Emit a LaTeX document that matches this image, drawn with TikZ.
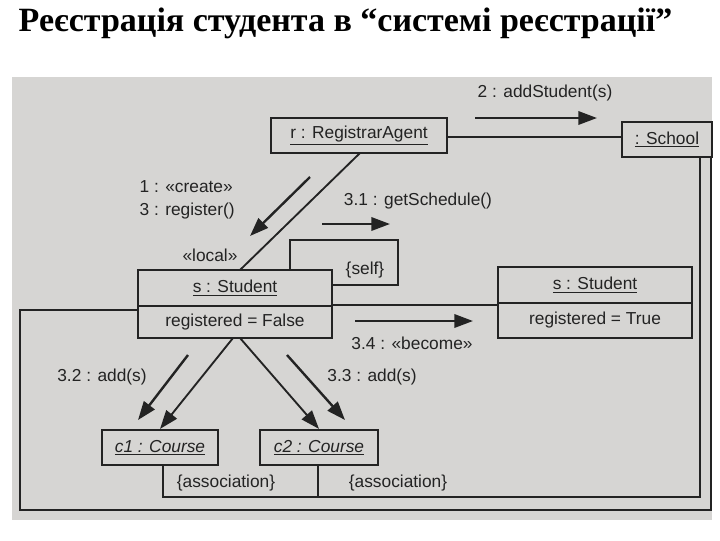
\documentclass[tikz,border=0pt]{standalone}
\usepackage{fontspec}
\setmainfont{Liberation Serif}
\newfontfamily\dsans{Liberation Sans}
\usetikzlibrary{arrows.meta}
\definecolor{bg}{RGB}{214,213,211}
\definecolor{ink}{RGB}{35,35,35}
\begin{document}
\begin{tikzpicture}[x=0.75pt,y=-0.75pt,
  obj/.style={draw=ink,line width=1.6pt,inner sep=0pt,font=\dsans\fontsize{13}{15}\selectfont,text=ink},
  lbl/.style={font=\dsans\fontsize{13}{15}\selectfont,text=ink,inner sep=1pt},
  lnk/.style={draw=ink,line width=1.4pt},
  msg/.style={draw=ink,line width=1.8pt,-{Triangle[length=14pt,width=10pt]}},
  nav/.style={draw=ink,line width=1.4pt,-{Triangle[length=14pt,width=10pt]}}]
\useasboundingbox (0,0) rectangle (720,540);
\fill[white] (0,0) rectangle (720,540);
\fill[bg] (12,77) rectangle (712,520);
\node[anchor=west,font=\bfseries\fontsize{25.5}{28}\selectfont] (title) at (14,23) {Реєстрація студента в “системі реєстрації”};
% objects
\node[obj,minimum width=176*0.75pt,minimum height=35*0.75pt] (ra) at (359,135.5) {\underline{r : RegistrarAgent}};
\node[obj,minimum width=90*0.75pt,minimum height=35*0.75pt] (sc) at (667,139.5) {\underline{: School}};
\node[obj,minimum width=116*0.75pt,minimum height=35*0.75pt,font=\dsans\itshape\fontsize{13}{15}\selectfont] (c1) at (160,447.5) {\underline{c1 : Course}};
\node[obj,minimum width=118*0.75pt,minimum height=35*0.75pt,font=\dsans\itshape\fontsize{13}{15}\selectfont] (c2) at (319,447.5) {\underline{c2 : Course}};
\node[obj,minimum width=194*0.75pt,minimum height=36*0.75pt] (s1) at (235,288) {\underline{s : Student}};
\node[obj,minimum width=194*0.75pt,minimum height=32*0.75pt] (s1a) at (235,322) {registered = False};
\node[obj,minimum width=194*0.75pt,minimum height=36*0.75pt] (s2) at (595,285) {\underline{s : Student}};
\node[obj,minimum width=194*0.75pt,minimum height=35*0.75pt] (s2a) at (595,320.5) {registered = True};
% links
\draw[lnk] (ra.east |- 0,137) -- (sc.west |- 0,137);
\draw[lnk] (360,153) -- (240,270);
\draw[lnk] (s1.east |- 0,305) -- (s2a.west |- 0,305);
\draw[lnk] (290,270) -- (290,240) -- (398,240) -- (398,285) -- (332,285);
\draw[lnk] (s1a.west |- 0,310) -- (20,310) -- (20,510) -- (711,510) -- (711,157);
\draw[lnk] (163,465) -- (163,497) -- (700,497) -- (700,157);
\draw[lnk] (318,465) -- (318,497);
\draw[nav] (233,338) -- (c1.north);
\draw[nav] (240,338) -- (c2.north);
% messages
\coordinate (m2a) at (475,118); \coordinate (m2b) at (597,118);
\draw[msg] (m2a) -- (m2b);
\node[lbl] (l2) at (545,93) {2 : addStudent(s)};
\coordinate (m1a) at (310,177); \coordinate (m1b) at (250,236);
\draw[msg] (m1a) -- (m1b);
\node[lbl,anchor=west] (l1) at (138,187) {1 : «create»};
\node[lbl,anchor=west] (l3) at (138,211) {3 : register()};
\node[lbl] (loc) at (210,255) {«local»};
\coordinate (m31a) at (322,224); \coordinate (m31b) at (390,224);
\draw[msg] (m31a) -- (m31b);
\node[lbl] (l31) at (418,201) {3.1 : getSchedule()};
\node[lbl] (self) at (365,270) {\{self\}};
\coordinate (m34a) at (355,321); \coordinate (m34b) at (473,321);
\draw[msg] (m34a) -- (m34b);
\node[lbl] (l34) at (412,343) {3.4 : «become»};
\coordinate (m32a) at (188,355); \coordinate (m32b) at (138,420);
\draw[msg] (m32a) -- (m32b);
\node[lbl] (l32) at (102,377) {3.2 : add(s)};
\coordinate (m33a) at (287,355); \coordinate (m33b) at (345,420);
\draw[msg] (m33a) -- (m33b);
\node[lbl] (l33) at (372,377) {3.3 : add(s)};
\node[lbl] (as1) at (226,483) {\{association\}};
\node[lbl] (as2) at (398,483) {\{association\}};
\end{tikzpicture}
\end{document}
